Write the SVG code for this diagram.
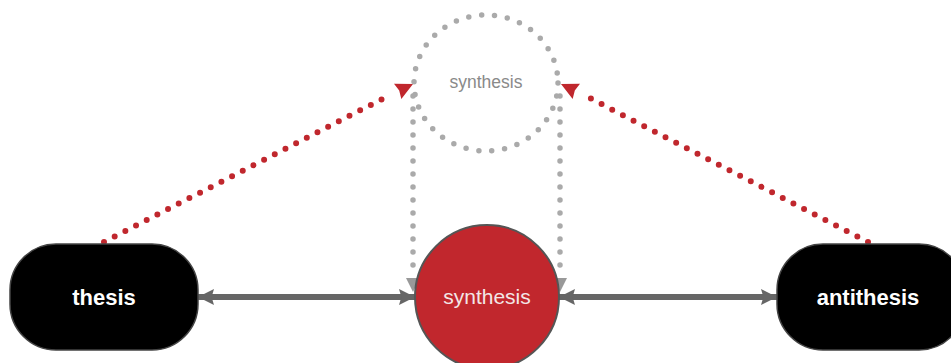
<svg xmlns="http://www.w3.org/2000/svg" width="951" height="363" viewBox="0 0 951 363">
  <style>
    .pill { fill: #000; stroke: #444; stroke-width: 1.5; }
    .label { font-family: "Liberation Sans", Arial, sans-serif; text-anchor: middle; }
    .bold { font-weight: bold; font-size: 22px; fill: #fff; }
    .link { stroke: #666; stroke-width: 6; fill: none; }
    .dots-red { stroke: #c0272d; stroke-width: 6; stroke-linecap: round; stroke-dasharray: 0 12; fill: none; }
    .dots-grey { stroke: #aaa; stroke-width: 5.5; stroke-linecap: round; stroke-dasharray: 0 13; fill: none; }
  </style>
  <defs>
    <marker id="arrow-dark" viewBox="0 0 10 10" refX="10" refY="5" markerWidth="24" markerHeight="16" markerUnits="userSpaceOnUse" orient="auto-start-reverse">
      <path d="M0,0 L10,5 L0,10 L1.5,5 Z" fill="#666"/>
    </marker>
    <marker id="arrow-red" viewBox="0 0 10 10" refX="10" refY="5" markerWidth="24" markerHeight="17" markerUnits="userSpaceOnUse" orient="auto">
      <path d="M0,0 L10,5 L0,10 L1,5 Z" fill="#c0272d"/>
    </marker>
    <marker id="arrow-grey" viewBox="0 0 10 10" refX="10" refY="5" markerWidth="20" markerHeight="14" markerUnits="userSpaceOnUse" orient="auto">
      <path d="M0,0 L10,5 L0,10 Z" fill="#999"/>
    </marker>
  </defs>

  <!-- connectors -->
  <g id="connectors">
    <line class="dots-grey" x1="413" y1="96" x2="413" y2="272"/>
    <line class="dots-grey" x1="560" y1="96" x2="560" y2="272"/>
    <path d="M413,270 L413,292" stroke="none" marker-end="url(#arrow-grey)"/>
    <path d="M560,270 L560,292" stroke="none" marker-end="url(#arrow-grey)"/>
    <line class="dots-red" x1="104" y1="242" x2="392" y2="94"/>
    <path d="M390,95 L413,84" stroke="none" marker-end="url(#arrow-red)"/>
    <line class="dots-red" x1="868" y1="242" x2="582" y2="94"/>
    <path d="M584,95 L561,84" stroke="none" marker-end="url(#arrow-red)"/>
    <line class="link" x1="198" y1="297" x2="415" y2="297" marker-start="url(#arrow-dark)" marker-end="url(#arrow-dark)"/>
    <line class="link" x1="559" y1="297" x2="777" y2="297" marker-start="url(#arrow-dark)" marker-end="url(#arrow-dark)"/>
  </g>

  <!-- dotted outcome circle -->
  <g id="synthesis-outcome">
    <ellipse cx="486" cy="83" rx="72" ry="68" class="dots-grey"/>
    <text class="label" x="486" y="88" font-size="17.5" fill="#8a8a8a">synthesis</text>
  </g>

  <g id="thesis">
    <rect class="pill" x="10" y="244" width="188" height="106" rx="46" ry="46"/>
    <text class="label bold" x="104" y="305">thesis</text>
  </g>

  <g id="synthesis">
    <circle cx="487" cy="297" r="72" fill="#c1272d" stroke="#555" stroke-width="2"/>
    <text class="label" x="487" y="304" font-size="21" fill="#f3e6e6">synthesis</text>
  </g>

  <g id="antithesis">
    <rect class="pill" x="777" y="244" width="188" height="106" rx="46" ry="46"/>
    <text class="label bold" x="868" y="305">antithesis</text>
  </g>
</svg>
